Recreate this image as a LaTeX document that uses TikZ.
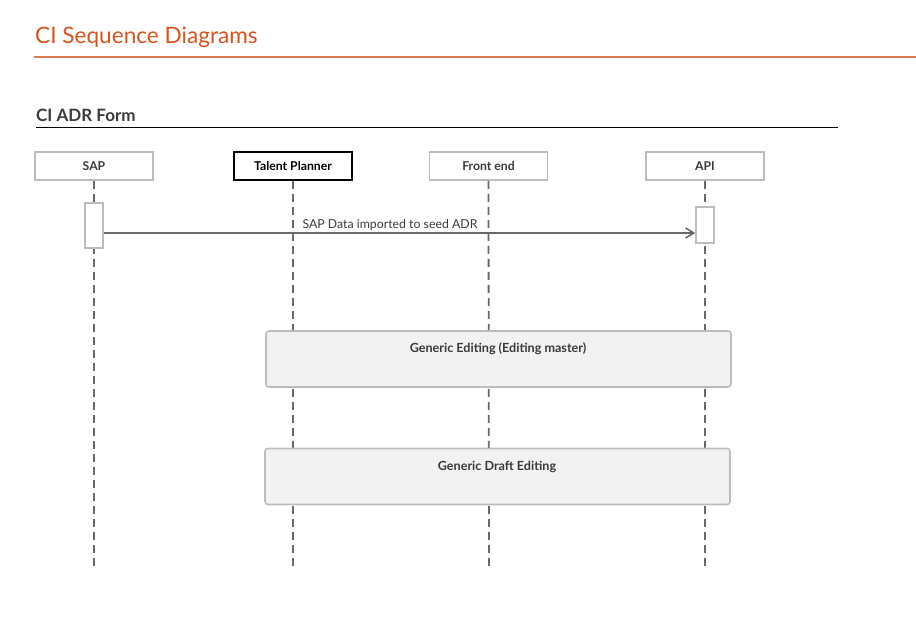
\documentclass[tikz,border=0pt]{standalone}
\usepackage{fontspec}
\setmainfont{Lato}
\usetikzlibrary{arrows.meta}
\definecolor{orangeT}{HTML}{D9531E}
\definecolor{orangeL}{HTML}{E27B4C}
\definecolor{boxgray}{HTML}{B9BDC1}
\definecolor{linegray}{HTML}{686868}
\definecolor{txtgray}{HTML}{3A3A3A}
\definecolor{fillgray}{HTML}{F2F2F2}
\tikzset{
  participant/.style={draw=boxgray, line width=1.6pt, fill=white, minimum width=118pt, minimum height=28pt, inner sep=0pt, font=\bfseries\fontsize{12.2}{14}\selectfont, text=txtgray},
  lifeline/.style={draw=linegray, line width=1.8pt, dash pattern=on 8pt off 5pt},
  activation/.style={draw=boxgray, line width=1.6pt, fill=white, minimum width=18pt, inner sep=0pt},
  fragment/.style={draw=boxgray, line width=1.6pt, fill=fillgray, rounded corners=3pt, minimum width=465pt, minimum height=56pt, inner sep=0pt},
  fragtitle/.style={font=\bfseries\fontsize{12.6}{14}\selectfont, text=txtgray, anchor=base},
  msg/.style={draw=linegray, line width=1.8pt, -{Straight Barb[length=8pt,width=10pt,line width=1.6pt]}},
}
\begin{document}
\begin{tikzpicture}[x=1pt,y=-1pt]
\useasboundingbox (0,0) rectangle (916,623);
% title
\node[anchor=base west, inner sep=0pt, text=orangeT, font=\fontsize{22.6}{26}\selectfont] (title) at (35,44) {CI Sequence Diagrams};
\coordinate (tl1) at (34,57);
\coordinate (tl2) at (916,57);
\draw[orangeL, line width=1.6pt] (tl1) -- (tl2);
% subtitle
\node[anchor=base west, inner sep=0pt, text=txtgray, font=\bfseries\fontsize{17}{20}\selectfont] (sub) at (36,122) {CI ADR Form};
\coordinate (sl1) at (36,127.5);
\coordinate (sl2) at (838,127.5);
\draw[black, line width=0.9pt] (sl1) -- (sl2);
% participants
\node[participant] (sap) at (94,166) {SAP};
\node[participant, draw=black, text=black] (tp) at (293,166) {Talent Planner};
\node[participant] (fe) at (488.5,166) {Front end};
\node[participant] (api) at (705,166) {API};
% lifeline ends
\coordinate (sapE) at (94,567);
\coordinate (tpE) at (293,567);
\coordinate (feE) at (489,567);
\coordinate (apiE) at (705,567);
\draw[lifeline] (sap.south) -- (sapE);
\draw[lifeline] (tp.south) -- (tpE);
\draw[lifeline] (fe.south) -- (feE);
\draw[lifeline] (api.south) -- (apiE);
% activations
\node[activation, minimum height=45pt] (sapA) at (94,225.5) {};
\node[activation, minimum height=36pt] (apiA) at (705,225) {};
% message
\draw[msg] (sapA.east |- 0,233) coordinate (m1) -- (apiA.west |- 0,233) coordinate (m2);
\node[anchor=base, inner sep=0pt, text=txtgray, font=\fontsize{12.3}{14}\selectfont] (mlabel) at (390,228) {SAP Data imported to seed ADR};
% fragments
\node[fragment] (f1) at (498.5,359) {};
\node[fragtitle] (f1t) at (498,352.5) {Generic Editing (Editing master)};
\node[fragment] (f2) at (497.5,476.5) {};
\node[fragtitle] (f2t) at (497,470) {Generic Draft Editing};
\end{tikzpicture}
\end{document}
